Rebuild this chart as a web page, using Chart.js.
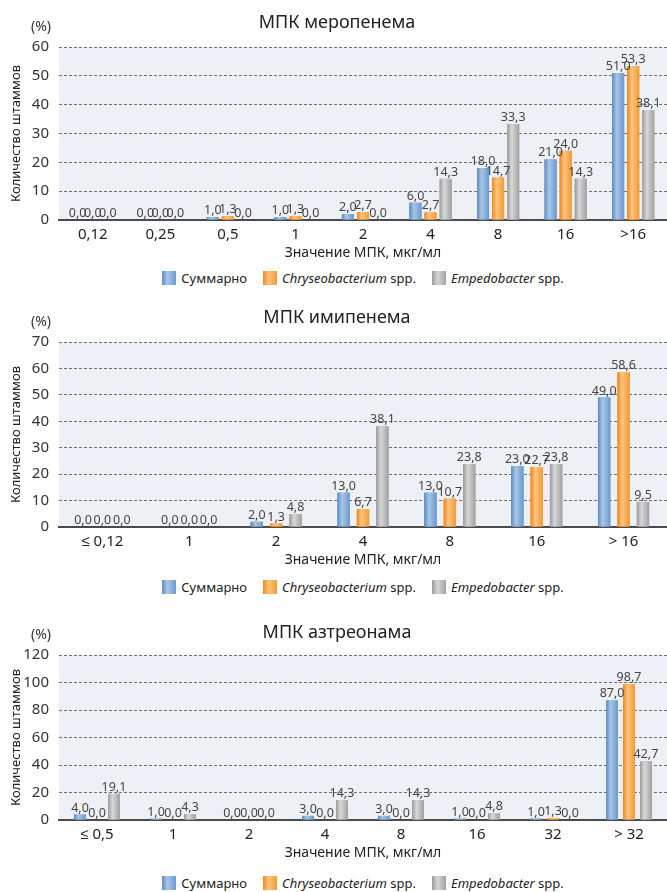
<!DOCTYPE html>
<html lang="ru">
<head>
<meta charset="utf-8">
<title>МПК карбапенемов и азтреонама</title>
<script src="https://cdn.jsdelivr.net/npm/chart.js@4/dist/chart.umd.min.js"></script>
<style>
  html, body { margin: 0; padding: 0; background: #fff; }
  body { width: 667px; height: 892px; position: relative; overflow: hidden; font-family: "Noto Sans", sans-serif; }
  .panel { position: absolute; left: 0; width: 667px; }
  .legend {
    position: absolute; left: 59px; width: 608px; height: 18px;
    display: flex; justify-content: center; align-items: center;
    font-size: 13px; color: #222; white-space: nowrap;
  }
  .legend .item { display: flex; align-items: center; margin: 0 8px; }
  .legend .sw { width: 14px; height: 14px; margin-right: 5px; }
  .sw.blue   { background: linear-gradient(to right, #5f8fc5 0%, #a9c6e6 40%, #6c9bcf 100%); }
  .sw.orange { background: linear-gradient(to right, #f08a1a 0%, #fcc27c 40%, #f39a35 100%); }
  .sw.gray   { background: linear-gradient(to right, #9c9c9c 0%, #d6d6d6 40%, #a3a3a3 100%); }
</style>
</head>
<body>

<div class="panel" style="top:0px;height:265px"><canvas id="mero"></canvas></div>
<div class="legend" style="top:269px">
  <span class="item"><span class="sw blue"></span>Суммарно</span>
  <span class="item"><span class="sw orange"></span><i>Chryseobacterium</i>&nbsp;spp.</span>
  <span class="item"><span class="sw gray"></span><i>Empedobacter</i>&nbsp;spp.</span>
</div>

<div class="panel" style="top:295px;height:277px"><canvas id="imi"></canvas></div>
<div class="legend" style="top:578px">
  <span class="item"><span class="sw blue"></span>Суммарно</span>
  <span class="item"><span class="sw orange"></span><i>Chryseobacterium</i>&nbsp;spp.</span>
  <span class="item"><span class="sw gray"></span><i>Empedobacter</i>&nbsp;spp.</span>
</div>

<div class="panel" style="top:608px;height:257px"><canvas id="azt"></canvas></div>
<div class="legend" style="top:874px">
  <span class="item"><span class="sw blue"></span>Суммарно</span>
  <span class="item"><span class="sw orange"></span><i>Chryseobacterium</i>&nbsp;spp.</span>
  <span class="item"><span class="sw gray"></span><i>Empedobacter</i>&nbsp;spp.</span>
</div>

<script>
// ---- Меропенем ----
const meroCategories = ['0,12', '0,25', '0,5', '1', '2', '4', '8', '16', '>16'];
const meroTotal      = [0, 0, 1.0, 1.0, 2.0, 6.0, 18.0, 21.0, 51.0];
const meroChryseo    = [0, 0, 1.3, 1.3, 2.7, 2.7, 14.7, 24.0, 53.3];
const meroEmpedo     = [0, 0, 0, 0, 0, 14.3, 33.3, 14.3, 38.1];
const meroYMax = 60, meroYStep = 10;

// ---- Имипенем ----
const imiCategories = ['≤ 0,12', '1', '2', '4', '8', '16', '> 16'];
const imiTotal      = [0, 0, 2.0, 13.0, 13.0, 23.0, 49.0];
const imiChryseo    = [0, 0, 1.3, 6.7, 10.7, 22.7, 58.6];
const imiEmpedo     = [0, 0, 4.8, 38.1, 23.8, 23.8, 9.5];
const imiYMax = 70, imiYStep = 10;

// ---- Азтреонам ----
const aztCategories = ['≤ 0,5', '1', '2', '4', '8', '16', '32', '> 32'];
const aztTotal      = [4.0, 1.0, 0, 3.0, 3.0, 1.0, 1.0, 87.0];
const aztChryseo    = [0, 0, 0, 0, 0, 0, 1.3, 98.7];
const aztEmpedo     = [19.1, 4.3, 0, 14.3, 14.3, 4.8, 0, 42.7];
const aztYMax = 120, aztYStep = 20;

const seriesNames = ['Суммарно', 'Chryseobacterium spp.', 'Empedobacter spp.'];
const FONT = '"Noto Sans", sans-serif';

// flat base colour plus a cylinder-like shading for each series
const palette = [
  { base: '#6f9ccf', stops: ['#5b8bc2', '#a8c6e7', '#6a99cd'] },
  { base: '#f59a2c', stops: ['#ef8717', '#fdc481', '#f39a33'] },
  { base: '#b0b0b0', stops: ['#9a9a9a', '#d8d8d8', '#a0a0a0'] }
];

const fmt = v => v.toFixed(1).replace('.', ',');

const plotBackground = {
  id: 'plotBackground',
  beforeDraw(chart) {
    const { ctx, chartArea: a } = chart;
    ctx.save();
    ctx.fillStyle = '#edf1f5';
    ctx.fillRect(a.left, a.top, a.right - a.left, a.bottom - a.top);
    ctx.restore();
  }
};

const barShading = {
  id: 'barShading',
  afterDatasetsDraw(chart) {
    const ctx = chart.ctx;
    ctx.save();
    chart.data.datasets.forEach((ds, i) => {
      const meta = chart.getDatasetMeta(i);
      const st = palette[i].stops;
      meta.data.forEach(bar => {
        const { x, y, base, width } = bar.getProps(['x', 'y', 'base', 'width'], true);
        if (base - y < 0.5) return;
        const left = x - width / 2;
        const g = ctx.createLinearGradient(left, 0, left + width, 0);
        g.addColorStop(0, st[0]);
        g.addColorStop(0.38, st[1]);
        g.addColorStop(1, st[2]);
        ctx.fillStyle = g;
        ctx.fillRect(left, y, width, base - y);
      });
    });
    ctx.restore();
  }
};

const valueLabels = {
  id: 'valueLabels',
  afterDatasetsDraw(chart) {
    const ctx = chart.ctx;
    ctx.save();
    ctx.font = '12.5px ' + FONT;
    ctx.fillStyle = '#444';
    ctx.textAlign = 'center';
    ctx.textBaseline = 'alphabetic';
    chart.data.datasets.forEach((ds, i) => {
      const meta = chart.getDatasetMeta(i);
      meta.data.forEach((bar, j) => {
        const { x, y } = bar.getProps(['x', 'y'], true);
        ctx.fillText(fmt(ds.data[j]), x, y - 3);
      });
    });
    ctx.restore();
  }
};

const headings = {
  id: 'headings',
  afterDraw(chart) {
    const { ctx, chartArea: a } = chart;
    const o = chart.options.plugins.headings;
    ctx.save();
    ctx.fillStyle = '#222';
    ctx.textAlign = 'center';
    ctx.textBaseline = 'middle';
    ctx.font = '18px ' + FONT;
    ctx.fillText(o.text, 337, a.top - o.gap);
    ctx.fillStyle = '#333';
    ctx.font = '14px ' + FONT;
    ctx.fillText('(%)', 41, a.top - 20);
    ctx.restore();
  }
};

function makeChart(id, title, gap, categories, total, chryseo, empedo, yMax, yStep, barPct) {
  const sets = [total, chryseo, empedo].map((d, i) => ({
    label: seriesNames[i],
    data: d,
    backgroundColor: palette[i].base,
    borderWidth: 0,
    categoryPercentage: 0.67,
    barPercentage: barPct
  }));
  return new Chart(document.getElementById(id), {
    type: 'bar',
    data: { labels: categories, datasets: sets },
    options: {
      responsive: true,
      maintainAspectRatio: false,
      animation: false,
      layout: { padding: { top: 47, left: 0, right: 0, bottom: 0 } },
      plugins: {
        legend: { display: false },
        tooltip: { enabled: false },
        title: { display: false },
        headings: { text: title, gap: gap }
      },
      scales: {
        x: {
          grid: { display: false, drawTicks: false },
          border: { display: true, color: '#4a4a4a', width: 2 },
          ticks: { font: { family: FONT, size: 15 }, color: '#222', padding: 6 },
          title: {
            display: true, text: 'Значение МПК, мкг/мл',
            font: { family: FONT, size: 14 }, color: '#222',
            padding: { top: 0, bottom: 4 }
          },
          afterFit(scale) { scale.height = 45; }
        },
        y: {
          min: 0, max: yMax,
          grid: { color: '#707070', lineWidth: 1, drawTicks: false },
          border: { display: false, dash: [3, 2] },
          ticks: { stepSize: yStep, font: { family: FONT, size: 15 }, color: '#333', padding: 10 },
          title: {
            display: true, text: 'Количество штаммов',
            font: { family: FONT, size: 13 }, color: '#222',
            padding: { top: 8, bottom: 0 }
          },
          afterFit(scale) { scale.width = 59; }
        }
      }
    },
    plugins: [plotBackground, barShading, valueLabels, headings]
  });
}

makeChart('mero', 'МПК меропенема', 24, meroCategories, meroTotal, meroChryseo, meroEmpedo, meroYMax, meroYStep, 0.8);
makeChart('imi', 'МПК имипенема', 24, imiCategories, imiTotal, imiChryseo, imiEmpedo, imiYMax, imiYStep, 0.64);
makeChart('azt', 'МПК азтреонама', 22, aztCategories, aztTotal, aztChryseo, aztEmpedo, aztYMax, aztYStep, 0.7);
</script>
</body>
</html>
